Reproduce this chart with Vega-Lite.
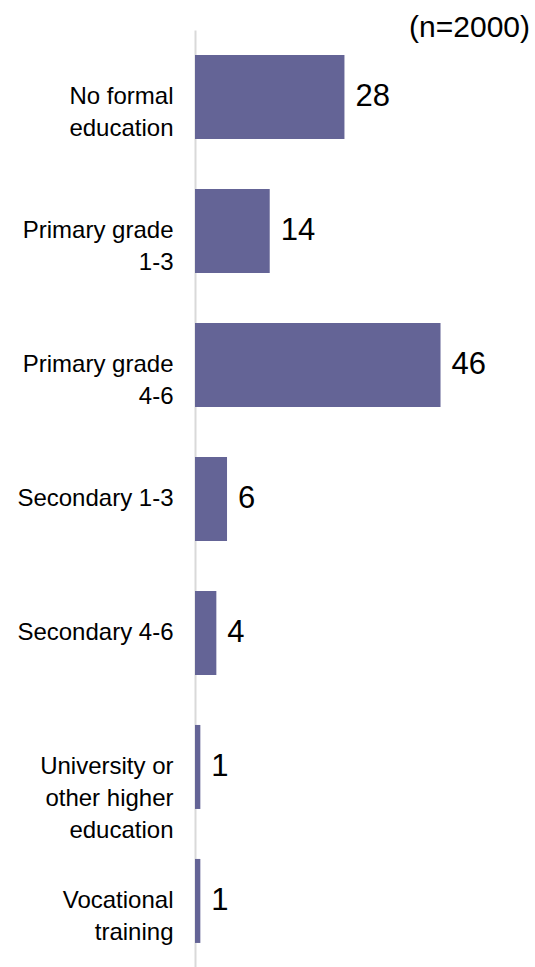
{
  "$schema": "https://vega.github.io/schema/vega-lite/v6.json",
  "autosize": "none",
  "width": 340,
  "height": 938,
  "padding": {"left": 195, "top": 30, "right": 0, "bottom": 0},
  "background": "white",
  "title": {
    "text": "(n=2000)",
    "anchor": "end",
    "font": "Liberation Sans",
    "fontSize": 30,
    "fontWeight": "normal",
    "color": "black",
    "offset": -13,
    "dx": -5
  },
  "data": {
    "values": [
      {"category": "No formal|education", "value": 28},
      {"category": "Primary grade|1-3", "value": 14},
      {"category": "Primary grade|4-6", "value": 46},
      {"category": "Secondary 1-3", "value": 6},
      {"category": "Secondary 4-6", "value": 4},
      {"category": "University or|other higher|education", "value": 1},
      {"category": "Vocational|training", "value": 1}
    ]
  },
  "encoding": {
    "y": {
      "field": "category",
      "type": "nominal",
      "sort": null,
      "scale": {"paddingInner": 0.373, "paddingOuter": 0.187},
      "axis": {
        "title": null,
        "ticks": false,
        "domainColor": "#d9d9d9",
        "domainWidth": 2,
        "labelExpr": "split(datum.label, '|')",
        "labelFont": "Liberation Sans",
        "labelFontSize": 24,
        "labelColor": "black",
        "labelLineHeight": 32,
        "labelPadding": 22,
        "labelAlign": "right",
        "labelBaseline": "middle",
        "labelLimit": 300
      }
    },
    "x": {
      "field": "value",
      "type": "quantitative",
      "scale": {"domain": [0, 63.7], "nice": false},
      "axis": null
    }
  },
  "layer": [
    {"mark": {"type": "bar", "color": "#646496", "x": 1.5}},
    {
      "mark": {
        "type": "text",
        "align": "left",
        "baseline": "middle",
        "dx": 11,
        "font": "Liberation Sans",
        "fontSize": 31,
        "color": "black"
      },
      "encoding": {"text": {"field": "value", "type": "quantitative"}}
    }
  ],
  "config": {"view": {"stroke": null}}
}
